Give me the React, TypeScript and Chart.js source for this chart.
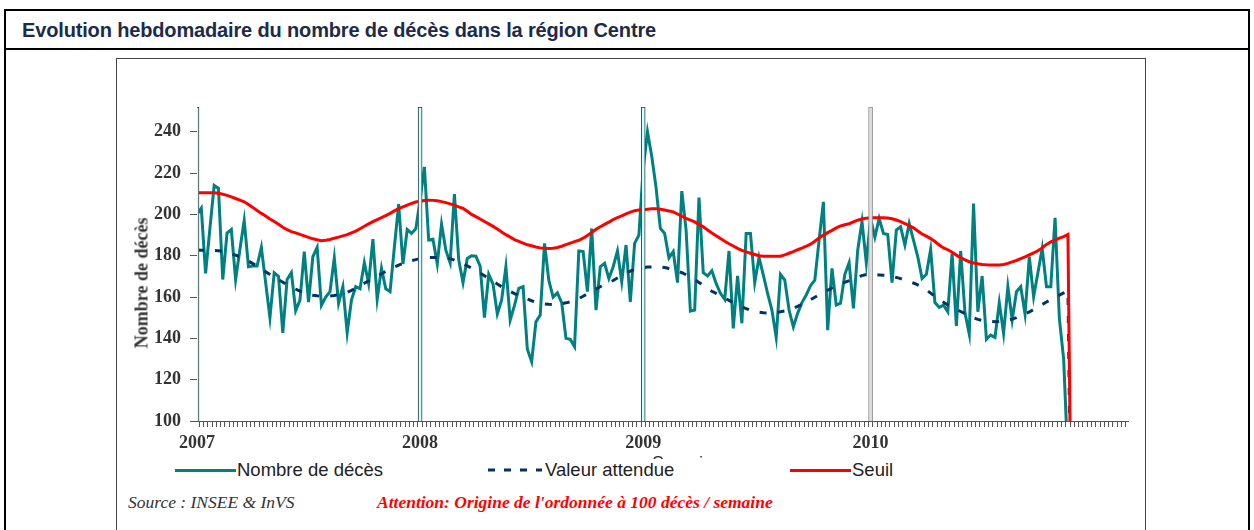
import React, { useEffect, useRef } from 'react';
import { Chart, registerables } from 'chart.js';

Chart.register(...registerables);

// ---- Data (weekly, week index 0 = first week of 2007) ----
const yearLabels = ['2007', '2008', '2009', '2010'];
const yearStartWeeks = [0, 52, 104, 157];
const yTickValues = [100, 120, 140, 160, 180, 200, 220, 240];
const axisLastWeek = 217;
const markerTop = 252;

const deaths2007 = [200, 203, 171.5, 193, 214, 212.6, 168.5, 191, 192.7, 168.5, 183, 197, 174.7, 175, 175, 184, 167, 150, 171.8, 170, 142.7, 168.5, 171.8, 153.4, 158.5, 182, 157.6, 179.5, 184, 156, 160, 162.6, 179, 157, 165, 142.7, 158.5, 165, 164, 176.6, 166.6, 188, 159, 173.9, 164, 162.6, 184, 205, 176, 192.7, 190.8, 193];
const deaths2008 = [207, 223, 187.6, 188, 176, 195.3, 182.7, 176.6, 209.8, 178, 167, 178.7, 180, 179.8, 175, 150, 171, 166.3, 151.8, 158.5, 174.7, 148.9, 156, 164.2, 165, 134.7, 128.7, 148, 151.3, 186, 168.2, 160, 162, 157.3, 140, 139.5, 136, 182.3, 182, 162.6, 193.2, 153.7, 174.7, 176.3, 169, 174.7, 182.3, 167.4, 185.2, 157.7, 186, 190];
const deaths2009 = [222, 240, 228, 213, 193.2, 190.8, 179, 182, 167, 211.3, 192.4, 153.2, 153.7, 208.2, 171.8, 170.2, 172.7, 166.6, 161.8, 158.9, 182.3, 144.8, 170.2, 147.3, 190.8, 190.8, 167, 179.2, 170.6, 161.8, 153.7, 140.5, 171, 168.2, 153.7, 145.6, 152.1, 157.3, 161, 165.5, 168.2, 187.6, 206.1, 144, 173.9, 156.1, 157, 171, 176.6, 154.5, 182.7, 196.5, 176.6];
const deaths2010 = [198, 189, 198, 190.8, 190.3, 167, 192.4, 194, 185.2, 195.6, 187.6, 179.5, 169, 171, 183, 157.3, 155, 156.1, 152.9, 181, 146, 182.3, 152.4, 142.1, 205.3, 152.9, 170.2, 139.5, 141.6, 140.5, 157.3, 142.4, 165, 148.9, 162.6, 165, 151.8, 179.5, 160.2, 171.8, 183.5, 165, 165, 198.4, 149.7, 130, 80];

const expected2007 = [182.8, 182.7, 182.6, 182.6, 182.5, 182.4, 182.1, 181.6, 181, 180.3, 179.5, 178.5, 177.4, 176.2, 175, 173.7, 172.3, 170.9, 169.6, 168.4, 167.2, 166, 164.8, 163.8, 162.9, 162.1, 161.4, 160.9, 160.6, 160.4, 160.4, 160.5, 160.8, 161.2, 161.7, 162.3, 163.2, 164.3, 165.5, 166.7, 167.8, 168.9, 170.1, 171.3, 172.5, 173.6, 174.6, 175.5, 176.3, 177, 177.6, 178.1];
const expected2008 = [178.6, 178.9, 179.1, 179.2, 179.2, 179.2, 179, 178.6, 177.9, 177, 176.2, 175.1, 174, 172.8, 171.6, 170.3, 169, 167.7, 166.3, 165, 163.8, 162.7, 161.7, 160.8, 159.9, 159, 158.2, 157.5, 157, 156.7, 156.5, 156.4, 156.5, 156.8, 157.2, 157.7, 158.4, 159.3, 160.4, 161.6, 162.8, 163.9, 165, 166, 166.9, 168, 169.2, 170.4, 171.6, 172.6, 173.4, 174];
const expected2009 = [174.3, 174.5, 174.6, 174.7, 174.6, 174.3, 173.8, 173.3, 172.7, 171.8, 170.8, 169.7, 168.5, 167.1, 165.7, 164.2, 162.8, 161.8, 160.6, 159.5, 158.4, 157.3, 156.3, 155.3, 154.4, 153.6, 153.1, 152.7, 152.4, 152.3, 152.4, 152.6, 152.9, 153.3, 153.8, 154.6, 155.5, 156.5, 157.5, 158.7, 159.9, 161.1, 162.3, 163.3, 164.4, 165.4, 166.3, 167.1, 167.9, 168.8, 169.6, 170.4, 170.9];
const expected2010 = [170.8, 170.8, 170.7, 170.6, 170.4, 170, 169.5, 168.9, 168.3, 167.6, 166.8, 165.9, 164.9, 163.5, 161.9, 160.3, 158.8, 157.5, 156.2, 155, 154, 153, 152, 151, 150, 149.2, 148.7, 148.4, 148.2, 148.1, 148.2, 148.4, 148.8, 149.3, 150, 150.8, 151.8, 152.8, 154, 155.2, 156.4, 157.6, 158.7, 159.8, 160.9, 162, 163, 0];

const threshold2007 = [210.5, 210.5, 210.5, 210.5, 210.5, 210.3, 209.8, 209.2, 208.5, 207.7, 206.9, 206.1, 204.8, 203.4, 201.9, 200.5, 199.2, 197.8, 196.6, 195.2, 193.8, 192.6, 191.7, 191.1, 190.3, 189.6, 188.9, 188.2, 187.7, 187.3, 187.5, 187.9, 188.5, 189, 189.6, 190.2, 191.1, 191.9, 193.1, 194.3, 195.4, 196.5, 197.5, 198.4, 199.4, 200.5, 201.7, 202.8, 203.7, 204.5, 205.3, 206];
const threshold2008 = [206.4, 206.7, 206.9, 206.8, 206.6, 206.2, 205.7, 205.1, 204.5, 203.7, 202.9, 201.5, 200, 198.9, 197.8, 196.6, 195.4, 194.2, 192.9, 191.5, 190.2, 189, 187.8, 187, 186.1, 185.3, 184.8, 184.2, 183.8, 183.6, 183.5, 183.6, 184, 184.6, 185.4, 186.1, 186.8, 187.5, 188.5, 189.8, 191.2, 192.8, 194, 195.2, 196.3, 197.5, 198.5, 199.3, 200.3, 201.1, 201.8, 202.1];
const threshold2009 = [202.2, 202.5, 202.8, 202.8, 202.5, 202.1, 201.7, 201.2, 200.2, 199.1, 198.1, 197.2, 196.4, 195.2, 194, 192.5, 191, 189.7, 188.3, 187, 185.8, 184.7, 183.6, 182.6, 181.9, 181.2, 180.6, 180, 179.8, 179.8, 179.8, 179.8, 179.8, 180.4, 181.2, 182, 182.9, 183.7, 184.6, 185.6, 187, 188.6, 190, 191.2, 192.3, 193.5, 194.4, 195, 195.5, 196.4, 197.2, 197.8, 198.1];
const threshold2010 = [198.4, 198.4, 198.4, 198.4, 198.3, 197.9, 197.3, 196.5, 195.6, 194.6, 193.5, 192, 190.5, 189.5, 188.3, 186.9, 185.2, 183.8, 182.9, 181.7, 180.3, 179.1, 178, 177.1, 176.5, 176.1, 175.8, 175.6, 175.5, 175.5, 175.5, 175.8, 176.3, 177, 177.7, 178.6, 179.4, 180.4, 181.4, 182.4, 183.8, 185.5, 186.7, 187.5, 188.5, 189.3, 190.3, 0];

const deaths = [...deaths2007, ...deaths2008, ...deaths2009, ...deaths2010];
const expected = [...expected2007, ...expected2008, ...expected2009, ...expected2010];
const threshold = [...threshold2007, ...threshold2008, ...threshold2009, ...threshold2010];

// ---- Styles ----
const TEAL = '#008080';
const NAVY = '#003366';
const RED = '#ff0000';
const AXIS = '#555555';
const SERIF = "'Liberation Serif', 'Times New Roman', serif";
const SANS = "'Liberation Sans', Arial, sans-serif";

const toPoints = (arr: number[]) => arr.map((v, i) => ({ x: i, y: v }));

export default function App() {
  const ref = useRef<HTMLCanvasElement | null>(null);

  useEffect(() => {
    if (!ref.current) return;
    const weekTicks: { value: number }[] = [];
    for (let w = 0; w <= axisLastWeek; w++) weekTicks.push({ value: w });

    const chart = new Chart(ref.current, {
      type: 'line',
      data: {
        datasets: [
          {
            type: 'bar',
            label: 'Années',
            data: yearStartWeeks.map((w) => ({ x: w, y: markerTop })),
            backgroundColor: yearStartWeeks.map((_, i) => (i === 3 ? '#e0e0e0' : '#ccffff')),
            borderColor: yearStartWeeks.map((_, i) => (i === 3 ? '#8c8c8c' : '#2b3b3b')),
            borderWidth: 1,
            borderSkipped: false,
            barThickness: 4,
            order: 0,
          } as any,
          {
            label: 'Seuil',
            data: toPoints(threshold),
            borderColor: RED,
            borderWidth: 3,
            pointRadius: 0,
            tension: 0,
            clip: 0,
            order: 1,
          } as any,
          {
            label: 'Valeur attendue',
            data: toPoints(expected),
            borderColor: NAVY,
            borderWidth: 3,
            borderDash: [7, 11],
            pointRadius: 0,
            tension: 0,
            clip: 0,
            order: 2,
          } as any,
          {
            label: 'Nombre de décès',
            data: toPoints(deaths),
            borderColor: TEAL,
            borderWidth: 3,
            pointRadius: 0,
            tension: 0,
            clip: 0,
            order: 3,
          } as any,
        ],
      },
      options: {
        animation: false,
        responsive: false,
        maintainAspectRatio: false,
        events: [],
        layout: { padding: { top: 47, right: 15, bottom: 0, left: 0 } },
        plugins: {
          legend: { display: false },
          tooltip: { enabled: false },
          title: { display: false },
        },
        scales: {
          x: {
            type: 'linear',
            min: 0,
            max: axisLastWeek,
            offset: false,
            afterBuildTicks: (s: any) => {
              s.ticks = weekTicks.map((t) => ({ ...t }));
            },
            afterFit: (s: any) => {
              s.height = 39;
            },
            grid: {
              drawOnChartArea: false,
              drawTicks: true,
              tickLength: 6,
              color: AXIS,
              lineWidth: 1,
            },
            border: { display: true, color: AXIS, width: 1 },
            ticks: {
              autoSkip: false,
              maxRotation: 0,
              minRotation: 0,
              padding: 6,
              color: '#333333',
              font: { family: SERIF, size: 18, weight: 'bold' },
              callback: (v: any) => {
                const i = yearStartWeeks.indexOf(Number(v));
                return i >= 0 ? yearLabels[i] : '';
              },
            },
          },
          y: {
            type: 'linear',
            min: 100,
            max: markerTop,
            afterBuildTicks: (s: any) => {
              s.ticks = yTickValues.map((v) => ({ value: v }));
            },
            afterFit: (s: any) => {
              s.width = 80;
            },
            grid: {
              drawOnChartArea: false,
              drawTicks: true,
              tickLength: 7,
              color: AXIS,
              lineWidth: 1,
            },
            border: { display: true, color: AXIS, width: 1 },
            ticks: {
              padding: 9,
              color: '#333333',
              font: { family: SERIF, size: 18, weight: 'bold' },
            },
          },
        },
      } as any,
    });
    return () => chart.destroy();
  }, []);

  const legendText: React.CSSProperties = {
    position: 'absolute',
    fontFamily: SANS,
    fontSize: 18.5,
    color: '#222',
    lineHeight: '20px',
    top: 460,
    whiteSpace: 'nowrap',
  };

  return (
    <div
      style={{
        position: 'absolute',
        left: 0,
        top: 0,
        width: 1254,
        height: 530,
        overflow: 'hidden',
        background: '#ffffff',
      }}
    >
      {/* outer frame */}
      <div
        style={{
          position: 'absolute',
          left: 4,
          top: 9,
          width: 1246,
          height: 560,
          border: '2px solid #000',
          boxSizing: 'border-box',
        }}
      />
      {/* title bar */}
      <div
        style={{
          position: 'absolute',
          left: 4,
          top: 9,
          width: 1246,
          height: 41,
          borderBottom: '2px solid #000',
          boxSizing: 'border-box',
          fontFamily: SANS,
          fontWeight: 'bold',
          fontSize: 20,
          color: '#1c2b4a',
          lineHeight: '42px',
          paddingLeft: 18,
          letterSpacing: '-0.15px',
          whiteSpace: 'nowrap',
        }}
      >
        Evolution hebdomadaire du nombre de décès dans la région Centre
      </div>
      {/* inner chart box */}
      <div
        style={{
          position: 'absolute',
          left: 116,
          top: 58,
          width: 1030,
          height: 520,
          border: '1px solid #444',
          boxSizing: 'border-box',
        }}
      />
      {/* x axis title, mostly hidden behind the legend as in the original */}
      <div
        style={{
          position: 'absolute',
          left: 652,
          top: 453,
          fontFamily: SANS,
          fontSize: 18,
          color: '#333',
        }}
      >
        Semaines
      </div>
      <canvas
        ref={ref}
        width={1026}
        height={400}
        style={{ position: 'absolute', left: 117, top: 60, width: 1026, height: 400 }}
      />
      {/* y axis title */}
      <div
        style={{
          position: 'absolute',
          left: 142,
          top: 283,
          transform: 'translate(-50%, -50%) rotate(-90deg)',
          fontFamily: SERIF,
          fontWeight: 'bold',
          fontSize: 18,
          color: '#333',
          whiteSpace: 'nowrap',
        }}
      >
        Nombre de décès
      </div>
      {/* legend */}
      <div
        style={{
          position: 'absolute',
          left: 150,
          top: 459,
          width: 760,
          height: 24,
          background: '#fff',
        }}
      />
      <div style={{ position: 'absolute', left: 175, top: 469, width: 61, height: 3, background: TEAL }} />
      <div style={{ ...legendText, left: 237 }}>Nombre de décès</div>
      <svg style={{ position: 'absolute', left: 486, top: 466 }} width={58} height={8}>
        <line x1={2} y1={4} x2={56} y2={4} stroke={NAVY} strokeWidth={3} strokeDasharray="7 9" />
      </svg>
      <div style={{ ...legendText, left: 545 }}>Valeur attendue</div>
      <div style={{ position: 'absolute', left: 790, top: 469, width: 61, height: 3, background: RED }} />
      <div style={{ ...legendText, left: 852 }}>Seuil</div>
      {/* source */}
      <div
        style={{
          position: 'absolute',
          left: 128,
          top: 492,
          fontFamily: SERIF,
          fontStyle: 'italic',
          fontSize: 17.5,
          color: '#333',
          whiteSpace: 'nowrap',
        }}
      >
        Source : INSEE &amp; InVS
      </div>
      <div
        style={{
          position: 'absolute',
          left: 377,
          top: 492,
          fontFamily: SERIF,
          fontStyle: 'italic',
          fontWeight: 'bold',
          fontSize: 17.5,
          color: '#ff0000',
          whiteSpace: 'nowrap',
        }}
      >
        Attention: Origine de l'ordonnée à 100 décès / semaine
      </div>
    </div>
  );
}
